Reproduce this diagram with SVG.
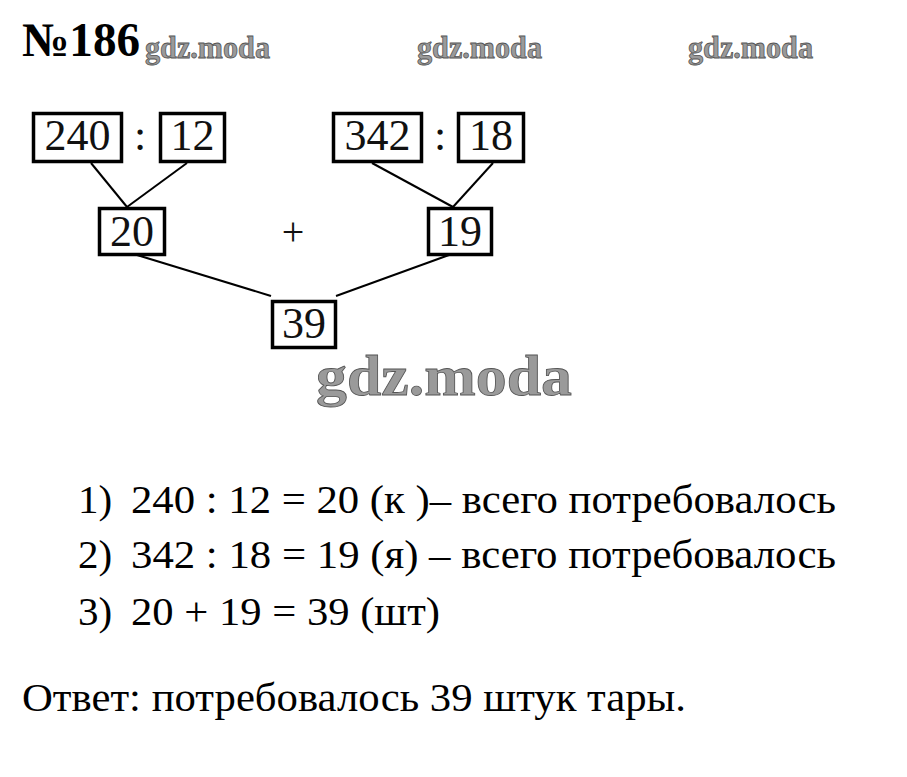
<svg xmlns="http://www.w3.org/2000/svg" width="907" height="777" viewBox="0 0 907 777">
<style>
.box{fill:#fff;stroke:#000;stroke-width:3.5}
.num{font-family:"Liberation Serif",serif;font-size:44px;fill:#111;text-anchor:middle}
.edge{stroke:#000;stroke-width:2;fill:none}
.txt{font-family:"Liberation Serif",serif;font-size:41px;fill:#000}
.wm{font-family:"Liberation Serif",serif;font-weight:bold;fill:#9a9a9a;stroke:#555;stroke-width:0.8}
</style>
<rect width="907" height="777" fill="#fff"/>
<text x="22" y="56" style="font-family:'Liberation Serif',serif;font-weight:bold;font-size:48px" textLength="118" lengthAdjust="spacingAndGlyphs">№186</text>
<text class="wm" x="145" y="58" font-size="31" textLength="125" lengthAdjust="spacingAndGlyphs">gdz.moda</text>
<text class="wm" x="417" y="58" font-size="31" textLength="125" lengthAdjust="spacingAndGlyphs">gdz.moda</text>
<text class="wm" x="688" y="58" font-size="31" textLength="125" lengthAdjust="spacingAndGlyphs">gdz.moda</text>
<g id="connectors">
<line class="edge" x1="91" y1="163" x2="127" y2="207"/>
<line class="edge" x1="187" y1="163" x2="127" y2="207"/>
<line class="edge" x1="372" y1="163" x2="453" y2="207"/>
<line class="edge" x1="493" y1="163" x2="453" y2="207"/>
<line class="edge" x1="137" y1="255" x2="271" y2="296"/>
<line class="edge" x1="449" y1="255" x2="336" y2="296"/>
</g>
<g id="n240"><rect class="box" x="33.5" y="113.5" width="88" height="48"/><text class="num" x="77.5" y="150">240</text></g>
<text class="num" x="140" y="150">:</text>
<g id="n12"><rect class="box" x="160.5" y="113.5" width="64" height="48"/><text class="num" x="192.5" y="150">12</text></g>
<g id="n342"><rect class="box" x="333.5" y="113.5" width="88" height="48"/><text class="num" x="377.5" y="150">342</text></g>
<text class="num" x="440" y="150">:</text>
<g id="n18"><rect class="box" x="458.5" y="113.5" width="65" height="48"/><text class="num" x="491" y="150">18</text></g>
<g id="n20"><rect class="box" x="99.5" y="208.5" width="65" height="46"/><text class="num" x="132" y="246">20</text></g>
<text class="num" x="293" y="245" style="font-size:40px">+</text>
<g id="n19"><rect class="box" x="428.5" y="208.5" width="63" height="46"/><text class="num" x="460" y="246">19</text></g>
<g id="n39"><rect class="box" x="272.5" y="301.5" width="63" height="46"/><text class="num" x="304" y="338">39</text></g>
<text class="wm" x="316" y="395" font-size="56" textLength="256" lengthAdjust="spacingAndGlyphs">gdz.moda</text>
<text class="txt" x="78" y="513">1)</text>
<text class="txt" x="131" y="513" textLength="705" lengthAdjust="spacingAndGlyphs">240 : 12 = 20 (к )– всего потребовалось</text>
<text class="txt" x="78" y="568">2)</text>
<text class="txt" x="131" y="568" textLength="705" lengthAdjust="spacingAndGlyphs">342 : 18 = 19 (я) – всего потребовалось</text>
<text class="txt" x="78" y="625">3)</text>
<text class="txt" x="131" y="625" textLength="309" lengthAdjust="spacingAndGlyphs">20 + 19 = 39 (шт)</text>
<text class="txt" x="22" y="711" textLength="664" lengthAdjust="spacingAndGlyphs">Ответ: потребовалось 39 штук тары.</text>
</svg>
